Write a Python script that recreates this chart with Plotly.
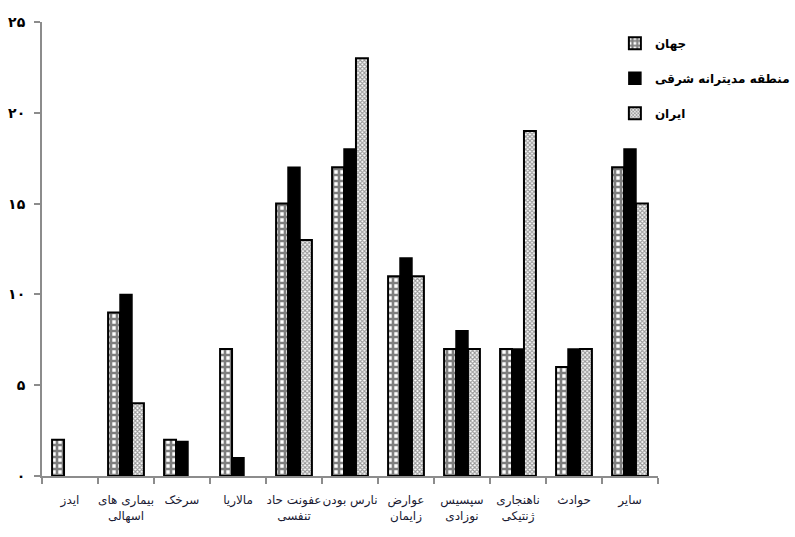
import plotly.graph_objects as go

categories = ["ایدز", "بیماری های<br>اسهالی", "سرخک", "مالاریا", "عفونت حاد<br>تنفسی",
              "نارس بودن", "عوارض<br>زایمان", "سپسیس<br>نوزادی", "ناهنجاری<br>ژنتیکی", "حوادث", "سایر"]
world = [2, 9, 2, 7, 15, 17, 11, 7, 7, 6, 17]
emro = [0, 10, 1.9, 1, 17, 18, 12, 8, 7, 7, 18]
iran = [0, 4, 0, 0, 13, 23, 11, 7, 19, 7, 15]
series_names = ["جهان", "منطقه مدیترانه شرقی", "ایران"]
y_tickvals = [0, 5, 10, 15, 20, 25]
y_ticktext = ["۰", "۵", "۱۰", "۱۵", "۲۰", "۲۵"]

FONT = "DejaVu Sans"


def hide_zero(vals):
    return [v if v else None for v in vals]


fig = go.Figure()
fig.add_trace(go.Bar(
    x=categories, y=hide_zero(world), name=series_names[0], legendgroup="a",
    marker=dict(color="white", line=dict(color="black", width=2),
                pattern=dict(shape="+", fgcolor="black", bgcolor="white", size=6, solidity=0.68)),
))
fig.add_trace(go.Bar(
    x=categories, y=hide_zero(emro), name=series_names[1], legendgroup="b",
    marker=dict(color="black", line=dict(color="black", width=1.5)),
))
fig.add_trace(go.Bar(
    x=categories, y=hide_zero(iran), name=series_names[2], legendgroup="c",
    marker=dict(color="white", line=dict(color="black", width=2),
                pattern=dict(shape="x", fgcolor="#333333", bgcolor="white", size=3, solidity=0.6)),
))

fig.update_layout(
    width=795, height=537,
    margin=dict(l=42, r=137, t=22, b=61, autoexpand=False),
    paper_bgcolor="white", plot_bgcolor="white",
    barmode="group", bargap=0.36, bargroupgap=0,
    font=dict(family=FONT, size=12, color="black"),
    legend=dict(x=0.93, y=0.985, xanchor="left", yanchor="top",
                font=dict(family=FONT, size=12, color="black", weight="bold"),
                tracegroupgap=16, itemwidth=30, bgcolor="rgba(0,0,0,0)"),
    showlegend=True,
)
fig.update_xaxes(
    type="category", showline=True, linecolor="#8c8c8c", linewidth=2,
    ticks="outside", tickson="boundaries", ticklen=6, tickcolor="#8c8c8c", tickwidth=2,
    tickangle=0, ticklabelstandoff=12,
    tickfont=dict(family=FONT, size=12, color="#1a1a33"), showgrid=False, zeroline=False,
)
fig.update_yaxes(
    range=[0, 25], tickvals=y_tickvals, ticktext=y_ticktext,
    showline=True, linecolor="#8c8c8c", linewidth=2,
    ticks="outside", ticklen=6, tickcolor="#8c8c8c", tickwidth=2,
    tickfont=dict(family=FONT, size=14, color="black", weight="bold"),
    ticklabelstandoff=6, showgrid=False, zeroline=False,
)

fig.write_html("out.html")
